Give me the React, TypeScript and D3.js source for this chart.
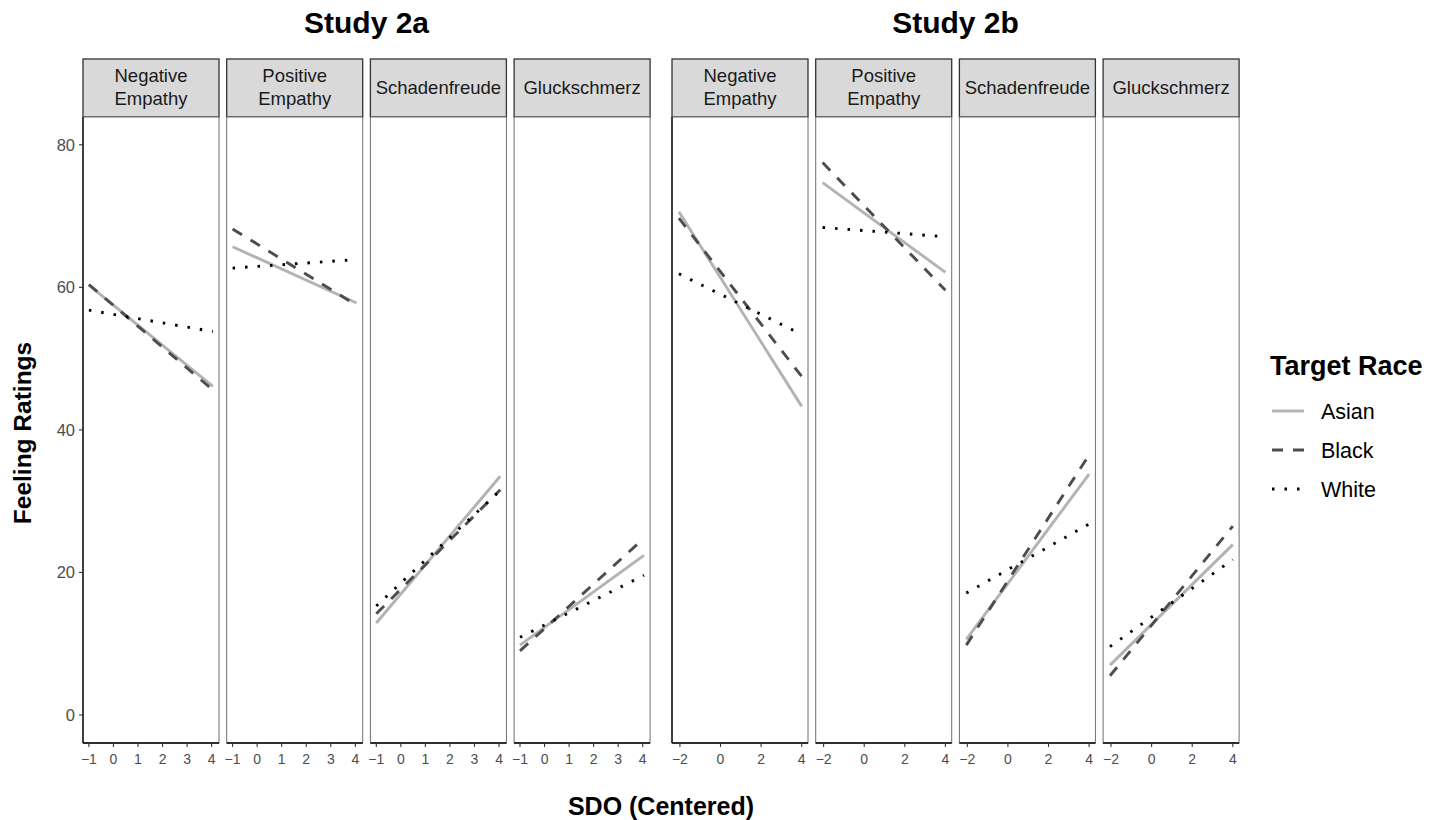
import * as d3 from "d3";
import { useEffect, useRef } from "react";

// Facet labels
const studies = ["Study 2a", "Study 2b"];
const measures = [["Negative", "Empathy"], ["Positive", "Empathy"], ["Schadenfreude"], ["Gluckschmerz"]];
const races = ["Asian", "Black", "White"];

// SDO range covered by the fitted lines in each study
const sdoRange = [[-1, 4.05], [-2.05, 4.0]];
const xDomains = [[-1.24, 4.3], [-2.39, 4.31]];
const xTicks = [[-1, 0, 1, 2, 3, 4], [-2, 0, 2, 4]];
const yTicks = [0, 20, 40, 60, 80];

// Predicted feeling ratings at [low SDO, high SDO], one pair per measure
const study2aAsian = [[60.3, 46.1], [65.7, 57.8], [12.9, 33.5], [9.8, 22.4]];
const study2aBlack = [[60.4, 45.6], [68.2, 57.5], [14.2, 31.6], [9.0, 24.8]];
const study2aWhite = [[56.8, 53.8], [62.7, 63.9], [15.3, 31.5], [10.9, 19.6]];
const study2bAsian = [[70.6, 43.3], [74.7, 62.1], [10.6, 33.8], [7.0, 23.9]];
const study2bBlack = [[69.7, 47.5], [77.5, 59.6], [9.8, 36.5], [5.5, 26.5]];
const study2bWhite = [[61.9, 53.4], [68.4, 67.1], [17.1, 26.8], [9.6, 21.8]];

const values = [
    [study2aAsian, study2aBlack, study2aWhite],
    [study2bAsian, study2bBlack, study2bWhite],
];

const raceStyle = {
    Asian: { color: "#b3b3b3", dash: null },
    Black: { color: "#4d4d4d", dash: "11,10" },
    White: { color: "#000000", dash: "2.5,10" },
};

export default function App() {
    const ref = useRef(null);

    useEffect(() => {
        document.body.style.margin = "0";
        const width = 1439;
        const height = 820;
        const font = "'Liberation Sans', Arial, Helvetica, sans-serif";

        const svg = d3.select(ref.current)
            .attr("width", width)
            .attr("height", height)
            .style("font-family", font);

        svg.selectAll("*").remove();

        const panelTop = 117;
        const panelBottom = 743;
        const stripTop = 59;
        const panelW = 136;
        const panelStep = 143.7;
        const studyLeft = [83, 672];

        const y = d3.scaleLinear().domain([-3.93, 83.9]).range([panelBottom, panelTop]);

        studies.forEach((study, s) => {
            const x0 = studyLeft[s];
            const x1 = x0 + panelStep * 3 + panelW;

            // Study title
            svg.append("text")
                .attr("x", (x0 + x1) / 2)
                .attr("y", 33)
                .attr("text-anchor", "middle")
                .style("font-size", "30px")
                .style("font-weight", "bold")
                .text(study);

            measures.forEach((m, p) => {
                const left = x0 + p * panelStep;
                const x = d3.scaleLinear().domain(xDomains[s]).range([left, left + panelW]);
                const g = svg.append("g");

                // Strip
                g.append("rect")
                    .attr("x", left)
                    .attr("y", stripTop)
                    .attr("width", panelW)
                    .attr("height", panelTop - stripTop)
                    .attr("fill", "#d9d9d9")
                    .attr("stroke", "#333333")
                    .attr("stroke-width", 1.3);

                const lineY = m.length === 2 ? [82, 105] : [94];
                g.selectAll(".strip")
                    .data(m)
                    .join("text")
                    .attr("x", left + panelW / 2)
                    .attr("y", (d, i) => lineY[i])
                    .attr("text-anchor", "middle")
                    .style("font-size", "18.5px")
                    .attr("fill", "#1a1a1a")
                    .text(d => d);

                // Panel border
                g.append("rect")
                    .attr("x", left)
                    .attr("y", panelTop)
                    .attr("width", panelW)
                    .attr("height", panelBottom - panelTop)
                    .attr("fill", "white")
                    .attr("stroke", "#6e6e6e")
                    .attr("stroke-width", 1);

                // Bottom axis
                g.append("line")
                    .attr("x1", left).attr("x2", left + panelW)
                    .attr("y1", panelBottom).attr("y2", panelBottom)
                    .attr("stroke", "black")
                    .attr("stroke-width", 1.3);

                g.selectAll(".xtick")
                    .data(xTicks[s])
                    .join("line")
                    .attr("x1", d => x(d)).attr("x2", d => x(d))
                    .attr("y1", panelBottom).attr("y2", panelBottom + 4)
                    .attr("stroke", "#333333")
                    .attr("stroke-width", 1.1);

                g.selectAll(".xlab")
                    .data(xTicks[s])
                    .join("text")
                    .attr("x", d => x(d))
                    .attr("y", panelBottom + 21)
                    .attr("text-anchor", "middle")
                    .style("font-size", "14px")
                    .attr("fill", "#4d4d4d")
                    .text(d => d < 0 ? "\u2212" + Math.abs(d) : String(d));

                // Left axis line on the first panel of each study
                if (p === 0) {
                    g.append("line")
                        .attr("x1", left).attr("x2", left)
                        .attr("y1", panelTop).attr("y2", panelBottom)
                        .attr("stroke", "black")
                        .attr("stroke-width", 1.3);
                }

                // Fitted lines
                races.forEach((race, r) => {
                    const v = values[s][r][p];
                    const pts = [[sdoRange[s][0], v[0]], [sdoRange[s][1], v[1]]];
                    const st = raceStyle[race];
                    g.append("path")
                        .datum(pts)
                        .attr("d", d3.line().x(d => x(d[0])).y(d => y(d[1])))
                        .attr("fill", "none")
                        .attr("stroke", st.color)
                        .attr("stroke-width", 2.9)
                        .attr("stroke-dasharray", st.dash)
                        .attr("stroke-linecap", "butt");
                });
            });
        });

        // Y axis on the far left
        const yAxisX = studyLeft[0];
        svg.selectAll(".ytick")
            .data(yTicks)
            .join("line")
            .attr("x1", yAxisX - 4).attr("x2", yAxisX)
            .attr("y1", d => y(d)).attr("y2", d => y(d))
            .attr("stroke", "#333333")
            .attr("stroke-width", 1.1);

        svg.selectAll(".ylab")
            .data(yTicks)
            .join("text")
            .attr("x", yAxisX - 8)
            .attr("y", d => y(d) + 6)
            .attr("text-anchor", "end")
            .style("font-size", "16.5px")
            .attr("fill", "#4d4d4d")
            .text(d => d);

        // Axis titles
        svg.append("text")
            .attr("transform", `translate(31,${(panelTop + panelBottom) / 2 + 3}) rotate(-90)`)
            .attr("text-anchor", "middle")
            .style("font-size", "24.5px")
            .style("font-weight", "bold")
            .text("Feeling Ratings");

        svg.append("text")
            .attr("x", 661)
            .attr("y", 815)
            .attr("text-anchor", "middle")
            .style("font-size", "25px")
            .style("font-weight", "bold")
            .text("SDO (Centered)");

        // Legend
        const legend = svg.append("g").attr("transform", "translate(1270,0)");
        legend.append("text")
            .attr("x", 0)
            .attr("y", 375)
            .style("font-size", "27px")
            .style("font-weight", "bold")
            .text("Target Race");

        races.forEach((race, i) => {
            const ly = 411 + i * 39;
            const st = raceStyle[race];
            legend.append("line")
                .attr("x1", 2).attr("x2", 34)
                .attr("y1", ly).attr("y2", ly)
                .attr("stroke", st.color)
                .attr("stroke-width", 2.9)
                .attr("stroke-dasharray", st.dash);
            legend.append("text")
                .attr("x", 51)
                .attr("y", ly + 8)
                .style("font-size", "21.5px")
                .text(race);
        });
    }, []);

    return <svg ref={ref}></svg>;
}
